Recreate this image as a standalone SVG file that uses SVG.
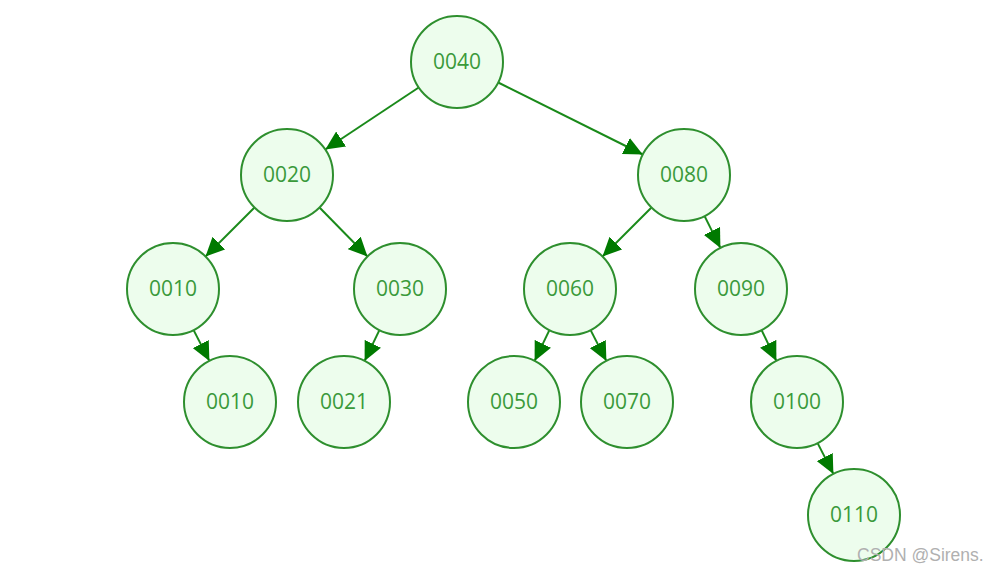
<svg xmlns="http://www.w3.org/2000/svg" width="989" height="575" viewBox="0 0 989 575">
<defs>
<style>
.n circle{fill:#edfded;stroke:#2e8f2e;stroke-width:2}
.n text{font-family:"Open Sans","Noto Sans",sans-serif;font-size:21px;fill:#3a9a3a;text-anchor:middle;dominant-baseline:central}
.e line{stroke:#1a8a1a;stroke-width:2;marker-end:url(#ah)}
.wm{font-family:"Liberation Sans",Arial,sans-serif;font-size:17.5px;fill:#b0b0b0}
</style>
<marker id="ah" markerUnits="userSpaceOnUse" markerWidth="20" markerHeight="18" refX="19" refY="9" orient="auto">
<path d="M0,0 L19,9 L0,18 z" fill="#007a00"/>
</marker>
</defs>
<rect width="989" height="575" fill="#ffffff"/>
<g id="connectors" class="e">
<line x1="418.7" y1="87.5" x2="325.3" y2="149.5"/>
<line x1="498.2" y1="82.5" x2="642.8" y2="154.5"/>
<line x1="254.5" y1="207.5" x2="205.5" y2="256.5"/>
<line x1="319.5" y1="207.5" x2="367.5" y2="256.5"/>
<line x1="651.5" y1="207.5" x2="602.5" y2="256.5"/>
<line x1="704.6" y1="216.1" x2="720.4" y2="247.9"/>
<line x1="193.6" y1="330.1" x2="209.4" y2="360.9"/>
<line x1="379.4" y1="330.1" x2="364.6" y2="360.9"/>
<line x1="549.4" y1="330.1" x2="534.6" y2="360.9"/>
<line x1="590.6" y1="330.1" x2="606.4" y2="360.9"/>
<line x1="761.6" y1="330.1" x2="776.4" y2="360.9"/>
<line x1="817.6" y1="443.1" x2="833.4" y2="473.9"/>
</g>
<g id="n0040" class="n"><circle cx="457" cy="62" r="46"/><text x="457" y="60.5">0040</text></g>
<g id="n0020" class="n"><circle cx="287" cy="175" r="46"/><text x="287" y="173.5">0020</text></g>
<g id="n0080" class="n"><circle cx="684" cy="175" r="46"/><text x="684" y="173.5">0080</text></g>
<g id="n0010a" class="n"><circle cx="173" cy="289" r="46"/><text x="173" y="287.5">0010</text></g>
<g id="n0030" class="n"><circle cx="400" cy="289" r="46"/><text x="400" y="287.5">0030</text></g>
<g id="n0060" class="n"><circle cx="570" cy="289" r="46"/><text x="570" y="287.5">0060</text></g>
<g id="n0090" class="n"><circle cx="741" cy="289" r="46"/><text x="741" y="287.5">0090</text></g>
<g id="n0010b" class="n"><circle cx="230" cy="402" r="46"/><text x="230" y="400.5">0010</text></g>
<g id="n0021" class="n"><circle cx="344" cy="402" r="46"/><text x="344" y="400.5">0021</text></g>
<g id="n0050" class="n"><circle cx="514" cy="402" r="46"/><text x="514" y="400.5">0050</text></g>
<g id="n0070" class="n"><circle cx="627" cy="402" r="46"/><text x="627" y="400.5">0070</text></g>
<g id="n0100" class="n"><circle cx="797" cy="402" r="46"/><text x="797" y="400.5">0100</text></g>
<g id="n0110" class="n"><circle cx="854" cy="515" r="46"/><text x="854" y="513.5">0110</text></g>
<text class="wm" x="857" y="561">CSDN @Sirens.</text>
</svg>
